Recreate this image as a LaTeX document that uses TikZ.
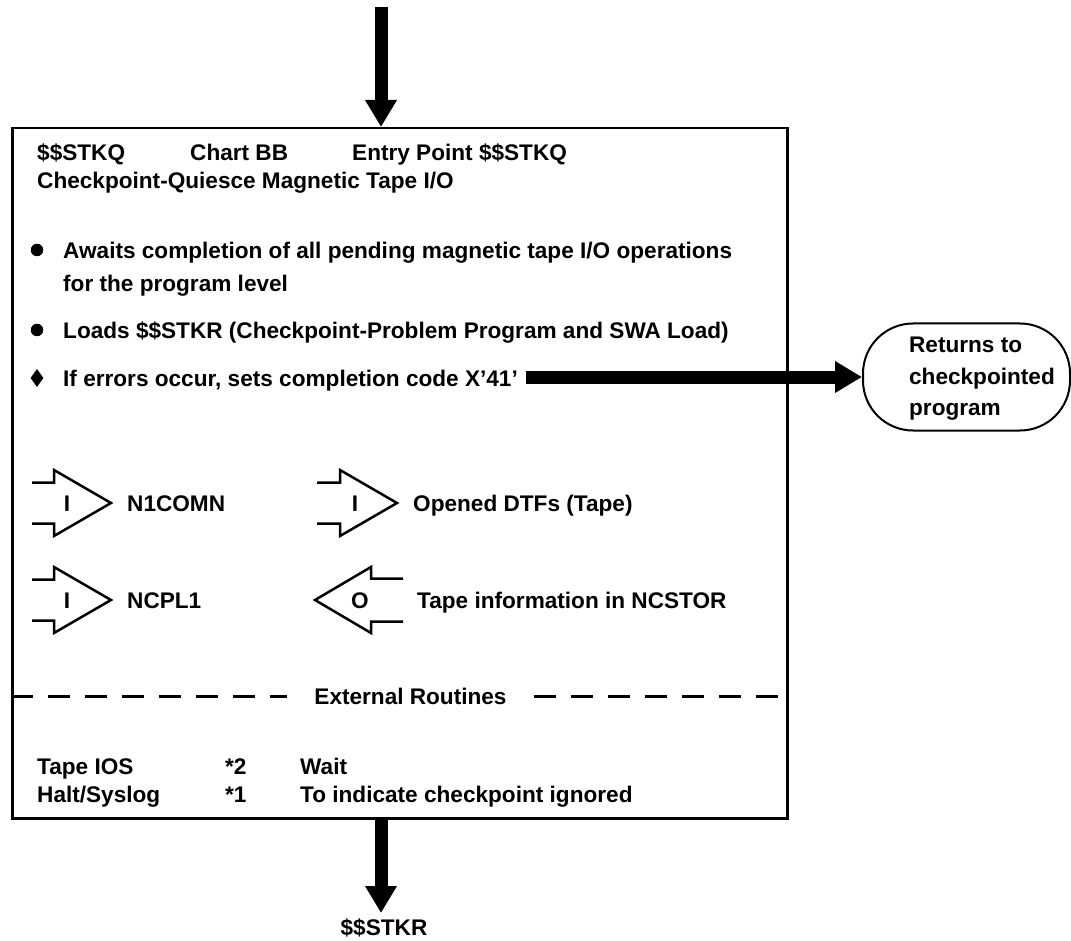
\documentclass[tikz,border=0pt]{standalone}
\usepackage{fontspec}
\setmainfont{Liberation Sans}
\usetikzlibrary{arrows.meta,shapes.geometric}
\begin{document}
\begin{tikzpicture}[x=1pt,y=-1pt,
  txt/.style={anchor=west,inner sep=0pt,text height=16.2pt,text depth=0pt,
    font=\fontsize{22.6}{30}\selectfont\bfseries},
  ctxt/.style={txt,anchor=center},
  bigarrow/.style={line width=13pt,-{Triangle[width=30pt,length=27pt]}},
  frame/.style={draw,line width=2.5pt,inner sep=0pt},
  ioarrow/.style={line width=2.5pt,line join=miter},
  dashline/.style={line width=3pt,dash pattern=on 22pt off 15pt},
  dot/.style={circle,fill,inner sep=0pt,minimum size=12.5pt},
  dia/.style={diamond,fill,inner sep=0pt,minimum width=13pt,minimum height=18pt}]
\useasboundingbox (0,0) rectangle (1071,941);
% main box
\node[frame,anchor=north west,minimum width=775pt,minimum height=690pt] (main) at (11,127) {};
% top arrow
\coordinate (topstart) at (381,7);
\draw[bigarrow] (topstart) -- (topstart |- main.north);
% header
\node[txt] (h1) at (37,152) {\$\$STKQ};
\node[txt] (h2) at (190,152) {Chart BB};
\node[txt] (h3) at (352,152) {Entry Point \$\$STKQ};
\node[txt] (h4) at (37,180) {Checkpoint-Quiesce Magnetic Tape I/O};
% bullets
\node[dot] (b1) at (37,250) {};
\node[txt] (t1) at (63,250) {Awaits completion of all pending magnetic tape I/O operations};
\node[txt] (t1b) at (63,283) {for the program level};
\node[dot] (b2) at (37,330) {};
\node[txt] (t2) at (63,330) {Loads \$\$STKR (Checkpoint-Problem Program and SWA Load)};
\node[dia] (b3) at (37,378) {};
\node[txt] (t3) at (63,378) {If errors occur, sets completion code X’41’};
% returns oval
\node[draw,line width=2pt,rounded corners=50pt,minimum width=207pt,minimum height=107pt,inner sep=0pt] (ret) at (966.5,377) {};
\node[align=left,inner sep=0pt,font=\fontsize{22.6}{31.5}\selectfont\bfseries] (rettxt) at (982,379) {Returns to\\checkpointed\\program};
\draw[bigarrow] ([xshift=8pt]t3.east |- ret.west) -- (ret.west);
% I/O arrows
\draw[ioarrow] (32,482.5) -- (54,482.5) -- (54,470) -- (111,503) -- (54,536) -- (54,523.5) -- (32,523.5);
\node[ctxt] (i1) at (67,503) {I};
\node[txt] (n1) at (127,503) {N1COMN};
\draw[ioarrow] (317,482.5) -- (340,482.5) -- (340,470) -- (397,503) -- (340,536) -- (340,523.5) -- (317,523.5);
\node[ctxt] (i2) at (355,503) {I};
\node[txt] (n2) at (413,503) {Opened DTFs (Tape)};
\draw[ioarrow] (32,579.5) -- (54,579.5) -- (54,567) -- (111,600) -- (54,633) -- (54,620.5) -- (32,620.5);
\node[ctxt] (i3) at (67,600) {I};
\node[txt] (n3) at (127,600) {NCPL1};
\draw[ioarrow] (403,578.5) -- (371,578.5) -- (371,567) -- (315,600) -- (371,633) -- (371,621.5) -- (403,621.5);
\node[ctxt] (o1) at (360,600) {O};
\node[txt] (n4) at (417,600) {Tape information in NCSTOR};
% external routines
\node[ctxt,inner xsep=27pt] (ext) at (410.5,696) {External Routines};
\draw[dashline] (main.west |- ext.west) -- (ext.west);
\draw[dashline] (ext.east) -- (main.east |- ext.east);
\node[txt] (e1) at (37,766) {Tape IOS};
\node[txt] (e2) at (225,766) {*2};
\node[txt] (e3) at (300,766) {Wait};
\node[txt] (e4) at (37,794) {Halt/Syslog};
\node[txt] (e5) at (225,794) {*1};
\node[txt] (e6) at (300,794) {To indicate checkpoint ignored};
% bottom arrow
\node[ctxt] (stkr) at (384,927) {\$\$STKR};
\coordinate (botend) at (381,913);
\draw[bigarrow] (main.south -| botend) -- (botend);
\end{tikzpicture}
\end{document}
